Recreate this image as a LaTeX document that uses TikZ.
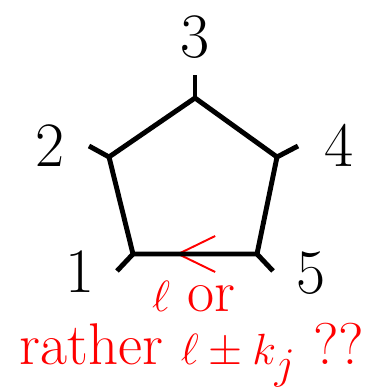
\documentclass[tikz,border=0pt]{standalone}
\usepackage{amsmath}
\usetikzlibrary{arrows.meta}
\tikzset{
  edg/.style = {line width=2.8pt, line join=miter},
  stub/.style = {line width=2.8pt},
  num/.style = {font=\fontsize{36}{42}\selectfont, inner sep=0pt},
  note/.style = {font=\fontsize{33.5}{40}\selectfont, text=red, inner sep=0pt},
  dirar/.style = {red, line width=1.1pt,
                  -{Straight Barb[length=0.74cm, width=0.72cm]}},
}
\begin{document}
\begin{tikzpicture}[x=0.02cm, y=0.02cm]
  \useasboundingbox (0,0) rectangle (389,391);
  % corners of the pentagon
  \coordinate (v1) at (133,137);
  \coordinate (v2) at (109,234);
  \coordinate (v3) at (195,293);
  \coordinate (v4) at (277,234);
  \coordinate (v5) at (257,137);
  % outer ends of the legs
  \coordinate (s1) at (117,120);
  \coordinate (s2) at (89,245);
  \coordinate (s3) at (195,316);
  \coordinate (s4) at (298,245);
  \coordinate (s5) at (273,120);
  \coordinate (tip) at (176,137);
  % direction on the bottom edge
  \draw[dirar] (v5) -- (tip);
  \draw[edg] (v1) -- (v2) -- (v3) -- (v4) -- (v5) -- cycle;
  \foreach \i in {1,...,5}{
    \draw[stub] (v\i) -- (s\i);
  }
  % labels
  \node[num] (n1) at (80,119) {1};
  \node[num] (n2) at (50,245) {2};
  \node[num] (n3) at (195,354) {3};
  \node[num] (n4) at (339,246) {4};
  \node[num] (n5) at (311,118) {5};
  \node[note] (lor) at (194,94) {$\ell$ or};
  \node[note] (rat) at (192,36) {rather $\ell\pm k_j$ ??};
\end{tikzpicture}
\end{document}
